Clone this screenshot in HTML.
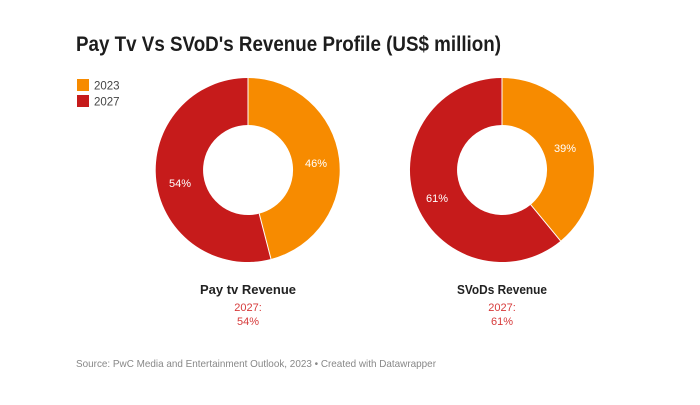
<!DOCTYPE html>
<html><head><meta charset="utf-8"><style>
body{margin:0;width:700px;height:400px;background:#fff;font-family:"Liberation Sans",sans-serif;overflow:hidden}
</style></head><body>
<svg width="700" height="400" xmlns="http://www.w3.org/2000/svg" font-family="Liberation Sans, sans-serif">
<text x="76" y="51" font-size="21" font-weight="bold" fill="#1d1d1d" textLength="425" lengthAdjust="spacingAndGlyphs">Pay Tv Vs SVoD's Revenue Profile (US$ million)</text>
<rect x="77" y="79" width="12" height="12" fill="#f78b00"/>
<text x="94" y="89.5" font-size="11.5" fill="#444">2023</text>
<rect x="77" y="95" width="12" height="12" fill="#c61b1b"/>
<text x="94" y="105.5" font-size="11.5" fill="#444">2027</text>
<path d="M248 78 A92 92 0 0 1 271 259 L259.2 213.6 A45 45 0 0 0 248 125 Z" fill="#f78b00"/>
<path d="M271 259 A92 92 0 1 1 248 78 L248 125 A45 45 0 1 0 259.2 213.6 Z" fill="#c61b1b"/>
<line x1="248" y1="78" x2="248" y2="125" stroke="#fff" stroke-width="1"/>
<line x1="271" y1="259" x2="259.2" y2="213.6" stroke="#fff" stroke-width="1"/>
<text x="316" y="167" font-size="11" fill="#fff" text-anchor="middle">46%</text>
<text x="180" y="187" font-size="11" fill="#fff" text-anchor="middle">54%</text>
<path d="M502 78 A92 92 0 0 1 560.6 240.9 L530.7 204.7 A45 45 0 0 0 502 125 Z" fill="#f78b00"/>
<path d="M560.6 240.9 A92 92 0 1 1 502 78 L502 125 A45 45 0 1 0 530.7 204.7 Z" fill="#c61b1b"/>
<line x1="502" y1="78" x2="502" y2="125" stroke="#fff" stroke-width="1"/>
<line x1="560.6" y1="240.9" x2="530.7" y2="204.7" stroke="#fff" stroke-width="1"/>
<text x="565" y="152" font-size="11" fill="#fff" text-anchor="middle">39%</text>
<text x="437" y="202" font-size="11" fill="#fff" text-anchor="middle">61%</text>
<text x="248" y="294" font-size="13" font-weight="bold" fill="#222" text-anchor="middle" textLength="96" lengthAdjust="spacingAndGlyphs">Pay tv Revenue</text>
<text x="248" y="311" font-size="11" fill="#d63a3a" text-anchor="middle">2027:</text>
<text x="248" y="325" font-size="11" fill="#d63a3a" text-anchor="middle">54%</text>
<text x="502" y="294" font-size="13" font-weight="bold" fill="#222" text-anchor="middle" textLength="90" lengthAdjust="spacingAndGlyphs">SVoDs Revenue</text>
<text x="502" y="311" font-size="11" fill="#d63a3a" text-anchor="middle">2027:</text>
<text x="502" y="325" font-size="11" fill="#d63a3a" text-anchor="middle">61%</text>
<text x="76" y="367" font-size="10.5" fill="#888" textLength="360" lengthAdjust="spacingAndGlyphs">Source: PwC Media and Entertainment Outlook, 2023 • Created with Datawrapper</text>
</svg>
</body></html>
